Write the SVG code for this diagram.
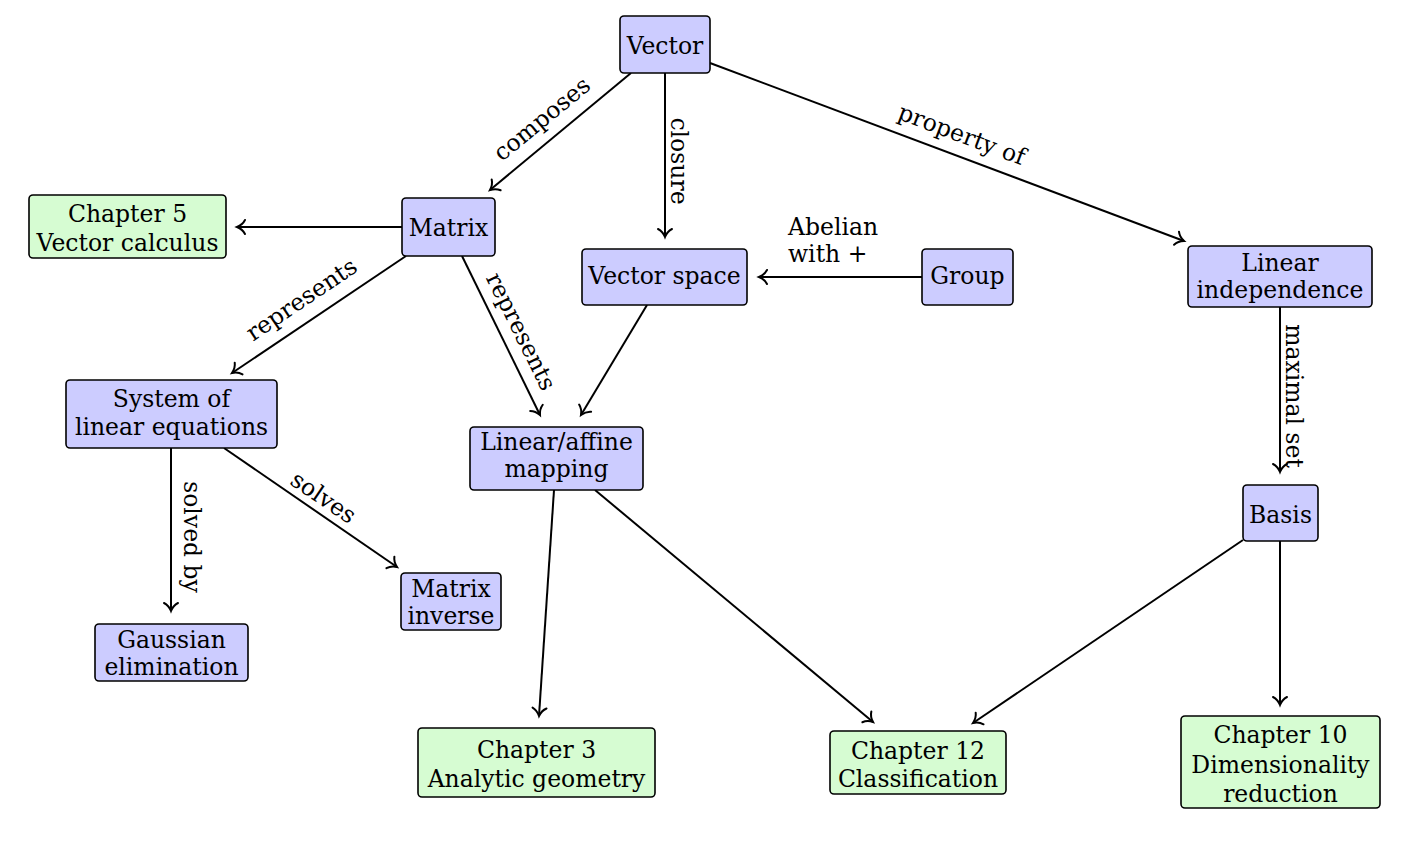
<svg xmlns="http://www.w3.org/2000/svg" width="1410" height="842" viewBox="0 0 1410 842">
<style>
text{font-family:"DejaVu Serif","Liberation Serif",serif;font-size:23.5px;fill:#000}
.n text{text-anchor:middle}
.b{fill:#ccccff;stroke:#000;stroke-width:1.6}
.g{fill:#d6fcd2;stroke:#000;stroke-width:1.6}
.e line{stroke:#000;stroke-width:2;fill:none;marker-end:url(#to)}
.lbl{text-anchor:middle}
</style>
<defs>
<marker id="to" markerUnits="userSpaceOnUse" viewBox="-10 -9 12 18" refX="0" refY="0" markerWidth="12" markerHeight="18" orient="auto" overflow="visible">
<path d="M -8,-7 C -6,-3 -2,-0.8 0,0 C -2,0.8 -6,3 -8,7" fill="none" stroke="#000" stroke-width="2" stroke-linecap="round"/>
</marker>
</defs>
<rect width="1410" height="842" fill="#fff"/>
<g id="connectors" class="e">
<line x1="631" y1="73" x2="490" y2="190"/>
<line x1="665" y1="73" x2="665" y2="237"/>
<line x1="710" y1="63" x2="1184" y2="241"/>
<line x1="402" y1="227" x2="237" y2="227"/>
<line x1="406" y1="256" x2="232" y2="373"/>
<line x1="462" y1="256" x2="540" y2="415"/>
<line x1="922" y1="277" x2="759" y2="277"/>
<line x1="647" y1="305" x2="581" y2="415"/>
<line x1="1280" y1="307" x2="1280" y2="472"/>
<line x1="171" y1="448" x2="171" y2="611"/>
<line x1="224" y1="448" x2="397" y2="567"/>
<line x1="554" y1="490" x2="539" y2="716"/>
<line x1="595" y1="490" x2="873" y2="722"/>
<line x1="1243" y1="540" x2="973" y2="723"/>
<line x1="1280" y1="541" x2="1280" y2="705"/>
</g>
<g id="edge-labels">
<text class="lbl" transform="translate(547,125) rotate(-39.4)">composes</text>
<text class="lbl" transform="translate(671,161) rotate(90)">closure</text>
<text class="lbl" transform="translate(959,142) rotate(20.5)">property of</text>
<text class="lbl" transform="translate(306,306) rotate(-34.1)">represents</text>
<text class="lbl" transform="translate(514,335) rotate(63.6)">represents</text>
<text x="788" y="235">Abelian<tspan x="788" dy="27">with +</tspan></text>
<text class="lbl" transform="translate(1286,396) rotate(90)">maximal set</text>
<text class="lbl" transform="translate(184,537) rotate(90)">solved by</text>
<text class="lbl" transform="translate(319,504) rotate(34.1)">solves</text>
</g>
<g id="vector" class="n"><rect class="b" x="620" y="16" width="90" height="57" rx="4"/><text x="665" y="54">Vector</text></g>
<g id="matrix" class="n"><rect class="b" x="402" y="198" width="93" height="58" rx="4"/><text x="448.5" y="236">Matrix</text></g>
<g id="chapter5" class="n"><rect class="g" x="29" y="195" width="197" height="63" rx="4"/><text x="127.5" y="222">Chapter 5<tspan x="127.5" dy="29">Vector calculus</tspan></text></g>
<g id="vector-space" class="n"><rect class="b" x="582" y="249" width="165" height="56" rx="4"/><text x="664.5" y="284">Vector space</text></g>
<g id="group" class="n"><rect class="b" x="922" y="249" width="91" height="56" rx="4"/><text x="967.5" y="284">Group</text></g>
<g id="linear-independence" class="n"><rect class="b" x="1188" y="246" width="184" height="61" rx="4"/><text x="1280" y="271">Linear<tspan x="1280" dy="27">independence</tspan></text></g>
<g id="system" class="n"><rect class="b" x="66" y="380" width="211" height="68" rx="4"/><text x="171.5" y="407">System of<tspan x="171.5" dy="28">linear equations</tspan></text></g>
<g id="linear-affine" class="n"><rect class="b" x="470" y="427" width="173" height="63" rx="4"/><text x="556.5" y="450">Linear/affine<tspan x="556.5" dy="27">mapping</tspan></text></g>
<g id="matrix-inverse" class="n"><rect class="b" x="401" y="573" width="100" height="57" rx="4"/><text x="451" y="597">Matrix<tspan x="451" dy="27">inverse</tspan></text></g>
<g id="gaussian" class="n"><rect class="b" x="95" y="624" width="153" height="57" rx="4"/><text x="171.5" y="648">Gaussian<tspan x="171.5" dy="27">elimination</tspan></text></g>
<g id="basis" class="n"><rect class="b" x="1243" y="485" width="75" height="56" rx="4"/><text x="1280.5" y="523">Basis</text></g>
<g id="chapter3" class="n"><rect class="g" x="418" y="728" width="237" height="69" rx="4"/><text x="536.5" y="758">Chapter 3<tspan x="536.5" dy="29">Analytic geometry</tspan></text></g>
<g id="chapter12" class="n"><rect class="g" x="830" y="731" width="176" height="63" rx="4"/><text x="918" y="759">Chapter 12<tspan x="918" dy="28">Classification</tspan></text></g>
<g id="chapter10" class="n"><rect class="g" x="1181" y="716" width="199" height="92" rx="4"/><text x="1280.5" y="743">Chapter 10<tspan x="1280.5" dy="30">Dimensionality</tspan><tspan x="1280.5" dy="29">reduction</tspan></text></g>
</svg>
